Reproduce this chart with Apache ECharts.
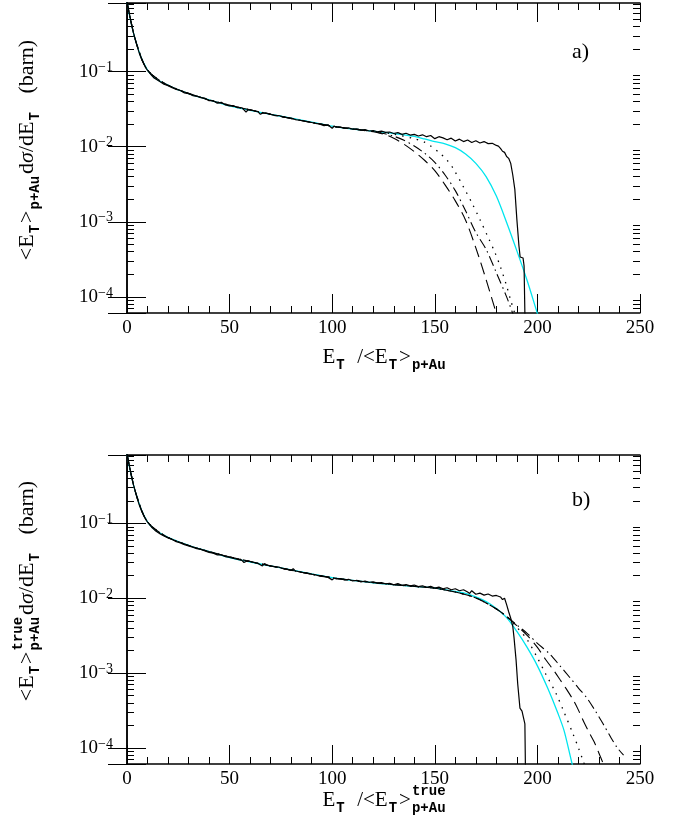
<!DOCTYPE html>
<html>
<head>
<meta charset="utf-8">
<title>ET distributions p+Au</title>
<script src="https://cdn.jsdelivr.net/npm/echarts@6/dist/echarts.min.js"></script>
<style>
  html, body { margin: 0; padding: 0; background: #fff; }
  #main { width: 678px; height: 819px; }
</style>
</head>
<body>
<div id="main"></div>
<script type="text/javascript">
// ---- data ----
var xTicks = [0, 50, 100, 150, 200, 250];
var yDecades = [1e-4, 1e-3, 1e-2, 1e-1];
var Y_MIN = 6.1e-5, Y_MAX = 0.82;

// panel a)
var blackA = [[0,0.85],[1,0.62],[2,0.46],[3,0.34],[4,0.27],[5,0.215],[6,0.176],[7,0.148],[8,0.129],[9,0.114],[10,0.104],[11,0.096],[12,0.089],[13,0.083],[14,0.080],[16,0.074],[18,0.068],[20,0.065],[22,0.061],[24,0.058],[26,0.056],[28,0.052],[30,0.051],[32,0.048],[34,0.047],[36,0.045],[38,0.044],[40,0.041],[42,0.041],[44,0.038],[46,0.039],[48,0.036],[50,0.035],[52,0.035],[54,0.033],[56,0.033],[57,0.031],[58,0.029],[59,0.031],[60,0.031],[62,0.030],[64,0.029],[65,0.027],[66,0.028],[68,0.028],[70,0.027],[72,0.026],[74,0.026],[76,0.025],[78,0.0245],[80,0.024],[82,0.023],[84,0.0225],[86,0.022],[88,0.0215],[90,0.021],[92,0.0205],[94,0.020],[96,0.019],[98,0.0195],[100,0.0176],[101,0.0188],[102,0.0182],[104,0.0183],[106,0.0176],[108,0.0178],[110,0.0171],[112,0.0173],[114,0.0166],[116,0.0169],[118,0.0162],[120,0.0164],[122,0.0158],[124,0.0161],[126,0.0155],[128,0.0157],[130,0.0150],[132,0.0154],[134,0.0146],[136,0.0151],[138,0.0143],[140,0.0146],[142,0.0139],[144,0.0144],[146,0.0136],[148,0.0141],[150,0.0128],[152,0.0136],[154,0.0131],[156,0.0124],[158,0.0130],[160,0.0119],[162,0.0126],[164,0.0117],[166,0.0123],[168,0.0114],[170,0.0120],[172,0.0112],[174,0.0117],[176,0.0110],[178,0.0111],[180,0.0104],[181,0.0102],[182,0.0095],[183,0.0087],[184,0.0084],[185,0.0074],[186,0.0070],[187,0.0060],[188,0.0042],[189,0.0027],[190,0.00107],[191,0.00048],[191.6,0.00034],[193,0.00033],[193.5,0.00026],[194.3,0.00026],[194.4,0.00001]];
var cyanA = [[0,0.85],[0.5,0.72],[1,0.6],[1.5,0.52],[2,0.45],[3,0.34],[4,0.27],[5,0.22],[6,0.18],[7,0.152],[8,0.132],[10,0.105],[12,0.09],[14,0.081],[17,0.072],[20,0.066],[25,0.057],[30,0.051],[35,0.046],[40,0.042],[50,0.035],[60,0.0305],[70,0.027],[80,0.024],[90,0.0213],[100,0.0188],[110,0.0172],[120,0.0161],[130,0.0150],[140,0.0137],[145,0.0127],[150,0.0117],[155,0.0109],[160,0.0097],[165,0.0080],[170,0.0060],[175,0.0040],[180,0.0022],[185,0.00098],[190,0.00041],[195,0.000165],[200,0.00006],[201,0.00005]];
var dashA = [[0,0.85],[2,0.45],[5,0.22],[10,0.105],[20,0.066],[40,0.042],[70,0.027],[100,0.0188],[120,0.0158],[125,0.0147],[130,0.0130],[135,0.0108],[140,0.0086],[145,0.0066],[150,0.0048],[155,0.0031],[160,0.0019],[165,0.00105],[170,0.00045],[175,0.00017],[180,0.00006],[181,0.00005]];
var dashDotA = [[0,0.85],[2,0.45],[5,0.22],[10,0.105],[20,0.066],[40,0.042],[70,0.027],[100,0.0188],[120,0.0159],[125,0.0150],[130,0.0138],[135,0.0122],[140,0.0102],[145,0.0082],[150,0.0062],[155,0.0042],[160,0.0026],[165,0.0014],[170,0.00072],[175,0.00043],[180,0.00021],[185,0.0001],[188,0.00006],[189,0.00005]];
var dotA = [[0,0.85],[2,0.45],[5,0.22],[10,0.105],[20,0.066],[40,0.042],[70,0.027],[100,0.0188],[120,0.0160],[130,0.0147],[140,0.0128],[145,0.0115],[148,0.0102],[152,0.0084],[156,0.0066],[159,0.0051],[164,0.0029],[168,0.0018],[172,0.00107],[176,0.00062],[179.3,0.00039],[182,0.00025],[185,0.00014],[187,0.00009],[189,0.00006],[190,0.00005]];

// panel b)
var blackB = [[0,0.85],[1,0.62],[2,0.46],[3,0.34],[4,0.27],[5,0.215],[6,0.176],[7,0.149],[8,0.129],[9,0.115],[10,0.104],[11,0.096],[12,0.089],[13,0.084],[14,0.079],[16,0.073],[18,0.068],[20,0.064],[22,0.061],[24,0.057],[26,0.055],[28,0.052],[30,0.050],[32,0.048],[34,0.046],[36,0.045],[38,0.043],[40,0.041],[42,0.040],[44,0.038],[46,0.038],[48,0.036],[50,0.035],[52,0.034],[54,0.033],[56,0.032],[57,0.030],[58,0.031],[60,0.031],[62,0.030],[64,0.029],[66,0.027],[67,0.029],[68,0.028],[70,0.027],[72,0.0265],[74,0.026],[76,0.025],[78,0.0245],[80,0.0236],[81,0.0248],[82,0.0232],[84,0.0226],[86,0.022],[88,0.0216],[90,0.021],[92,0.0205],[94,0.0197],[96,0.0194],[98,0.019],[100,0.0176],[101,0.0186],[102,0.0181],[104,0.0183],[106,0.0175],[108,0.0179],[110,0.0170],[112,0.0174],[114,0.0165],[116,0.0170],[118,0.0163],[120,0.0166],[122,0.0159],[124,0.0162],[126,0.0156],[128,0.0158],[130,0.0151],[132,0.0157],[134,0.0149],[136,0.0152],[138,0.0146],[140,0.0150],[142,0.0143],[144,0.0147],[146,0.0140],[148,0.0144],[150,0.0137],[152,0.0141],[154,0.0134],[156,0.0138],[158,0.0130],[160,0.0134],[162,0.0126],[164,0.0130],[166,0.0121],[167,0.0116],[168,0.0126],[170,0.0113],[172,0.0117],[174,0.0110],[176,0.0114],[178,0.0107],[180,0.0109],[182,0.0104],[183,0.0096],[184,0.0100],[185,0.0082],[186,0.0066],[187,0.0054],[188,0.0042],[188.6,0.0030],[189.6,0.0015],[190.4,0.00072],[191.5,0.00034],[192.5,0.00031],[193.2,0.00030],[193.9,0.00021],[194.4,0.00021],[194.5,0.00001]];
var cyanB = [[0,0.85],[0.5,0.72],[1,0.6],[1.5,0.52],[2,0.45],[3,0.34],[4,0.27],[5,0.22],[6,0.18],[7,0.152],[8,0.132],[10,0.105],[12,0.09],[14,0.081],[17,0.072],[20,0.065],[25,0.057],[30,0.051],[35,0.046],[40,0.042],[50,0.035],[60,0.0305],[70,0.027],[80,0.024],[90,0.0212],[100,0.0188],[110,0.0173],[120,0.0161],[130,0.0152],[140,0.0144],[150,0.0137],[160,0.0123],[165,0.0116],[170,0.0104],[175,0.0090],[180,0.0073],[185,0.0055],[190,0.0036],[195,0.0022],[200,0.00125],[205,0.00063],[210,0.00029],[213,0.00017],[217,0.00006],[218,0.00005]];
var dashB = [[0,0.85],[2,0.45],[5,0.22],[10,0.105],[20,0.065],[40,0.042],[70,0.027],[100,0.0188],[130,0.0152],[150,0.0136],[160,0.0121],[170,0.0101],[180,0.0072],[185,0.0057],[190,0.0043],[195,0.0032],[200,0.0022],[204,0.00152],[208,0.00108],[211,0.00082],[214,0.00062],[217.5,0.000435],[220,0.00032],[222.7,0.00022],[225,0.000165],[227.7,0.00012],[230,0.000085],[232,0.000063],[234,0.00005]];
var dashDotB = [[0,0.85],[2,0.45],[5,0.22],[10,0.105],[20,0.065],[40,0.042],[70,0.027],[100,0.0188],[130,0.0152],[150,0.0136],[160,0.0121],[170,0.0101],[180,0.0072],[185,0.0057],[190,0.0044],[195,0.0034],[200,0.0025],[206,0.0018],[211,0.00125],[216,0.00086],[220,0.00063],[224,0.00047],[228,0.00032],[232,0.00021],[236,0.000135],[239,0.0001],[242,0.00008]];
var dotB = [[0,0.85],[2,0.45],[5,0.22],[10,0.105],[20,0.065],[40,0.042],[70,0.027],[100,0.0188],[130,0.0152],[150,0.0136],[160,0.0121],[170,0.0101],[180,0.0072],[185,0.0057],[190,0.0041],[195,0.0028],[200,0.0016],[204,0.00098],[209,0.00054],[213,0.0003],[217.2,0.000158],[220,0.0001],[222.4,0.000066],[224,0.00005]];

// ---- styling ----
var SERIF = 'Liberation Serif';
var MAIN = '22px "Liberation Serif"';
var ITAL = 'italic 22px "Liberation Serif"';
var SMALL = 'bold 14px "Liberation Mono"';

// minor log ticks 2..9 x 10^k, expressed in log10 for the helper value axes
var minorLog = [];
for (var k = -5; k <= 0; k++) {
    for (var m = 2; m <= 9; m++) {
        var v = m * Math.pow(10, k);
        if (v > Y_MIN && v < Y_MAX) minorLog.push(Math.log10(v));
    }
}

function xAx(grid, pos, showLabel) {
    return {
        type: 'value', gridIndex: grid, position: pos,
        min: xTicks[0], max: xTicks[xTicks.length - 1], interval: xTicks[1] - xTicks[0],
        axisLine: { show: true, onZero: false, lineStyle: { color: '#000', width: 1.5 } },
        axisTick: { show: true, inside: true, length: 19, lineStyle: { color: '#000', width: 1 } },
        minorTick: { show: true, splitNumber: 5, length: 7, lineStyle: { color: '#000', width: 1 } },
        splitLine: { show: false }, minorSplitLine: { show: false },
        axisLabel: { show: showLabel, margin: 6, color: '#000', fontFamily: SERIF, fontSize: 19 }
    };
}

function yLog(grid, pos, showLabel) {
    return {
        type: 'log', logBase: 10, gridIndex: grid, position: pos,
        min: Y_MIN, max: Y_MAX, splitNumber: 5,
        axisLine: { show: true, lineStyle: { color: '#000', width: 1.5 } },
        axisTick: { show: true, inside: true, length: 19, lineStyle: { color: '#000', width: 1 } },
        splitLine: { show: false },
        axisLabel: {
            show: showLabel, margin: 14, color: '#000',
            formatter: function (val) {
                var l = Math.log10(val), e = Math.round(l);
                if (Math.abs(l - e) > 1e-6) return '';
                return '{b|10}{e|\u2212' + (-e) + '}';
            },
            rich: {
                b: { fontFamily: SERIF, fontSize: 19, lineHeight: 22, color: '#000' },
                e: { fontFamily: SERIF, fontSize: 14, lineHeight: 10, verticalAlign: 'top', color: '#000' }
            }
        }
    };
}

function yMinor(grid, pos) {
    return {
        type: 'value', gridIndex: grid, position: pos,
        min: Math.log10(Y_MIN), max: Math.log10(Y_MAX),
        axisLine: { show: false },
        axisTick: { show: true, inside: true, length: 7, customValues: minorLog, lineStyle: { color: '#000', width: 1 } },
        axisLabel: { show: false },
        splitLine: { show: false }
    };
}

function line(data, grid, color, type, width, smooth, z) {
    return {
        type: 'line', data: data, xAxisIndex: grid * 2, yAxisIndex: grid * 4,
        showSymbol: false, symbol: 'none', smooth: smooth ? 0.3 : false,
        lineStyle: { color: color, width: width, type: type }, silent: true, z: z
    };
}

// math-like labels built from pieces
var ctx = document.createElement('canvas').getContext('2d');
function tw(s, font) { ctx.font = font; return ctx.measureText(s).width; }
function txt(s, x, y, font) {
    return { type: 'text', x: x, y: y, silent: true,
        style: { text: s, font: font, fill: '#000', align: 'left', verticalAlign: 'middle',
                 textAlign: 'left', textVerticalAlign: 'middle' } };
}
function formula(parts, cx, cy, rot, font) {
    var x = 0, kids = [], f = font || MAIN;
    parts.forEach(function (p) {
        if (typeof p === 'string') {
            kids.push(txt(p, x, 0, f)); x += tw(p, f);
        } else if (p.it) {
            kids.push(txt(p.it, x, 0, ITAL)); x += tw(p.it, ITAL);
        } else {
            var w1 = p.sub ? tw(p.sub, SMALL) : 0, w2 = p.sup ? tw(p.sup, SMALL) : 0;
            if (p.sub) kids.push(txt(p.sub, x + 1, 8, SMALL));
            if (p.sup) kids.push(txt(p.sup, x + 1, -9, SMALL));
            x += Math.max(w1, w2) + 3;
        }
    });
    kids.forEach(function (c) { c.x -= x / 2; });
    return { type: 'group', x: cx, y: cy, rotation: rot || 0, children: kids, silent: true };
}

var myChart = echarts.init(document.getElementById('main'), null, { renderer: 'canvas' });

var option = {
    backgroundColor: '#fff',
    animation: false,
    grid: [
        { left: 127, top: 3, width: 513, height: 310, outerBoundsMode: 'none' },
        { left: 127, top: 455, width: 513, height: 309, outerBoundsMode: 'none' }
    ],
    xAxis: [xAx(0, 'bottom', true), xAx(0, 'top', false), xAx(1, 'bottom', true), xAx(1, 'top', false)],
    yAxis: [
        yLog(0, 'left', true), yLog(0, 'right', false), yMinor(0, 'left'), yMinor(0, 'right'),
        yLog(1, 'left', true), yLog(1, 'right', false), yMinor(1, 'left'), yMinor(1, 'right')
    ],
    series: [
        line(cyanA, 0, '#00e5ee', 'solid', 1.3, true, 2),
        line(dashA, 0, '#000', [12, 6], 1.1, true, 3),
        line(dashDotA, 0, '#000', [10, 4, 1.5, 4], 1.1, true, 3),
        line(dotA, 0, '#000', [1.5, 6], 1.3, true, 3),
        line(blackA, 0, '#000', 'solid', 1.2, false, 4),
        line(cyanB, 1, '#00e5ee', 'solid', 1.3, true, 2),
        line(dashB, 1, '#000', [12, 6], 1.1, true, 3),
        line(dashDotB, 1, '#000', [10, 4, 1.5, 4], 1.1, true, 3),
        line(dotB, 1, '#000', [1.5, 6], 1.3, true, 3),
        line(blackB, 1, '#000', 'solid', 1.2, false, 4)
    ],
    graphic: [
        formula(['<E', { sub: 'T' }, '>', { sub: 'p+Au' }, 'd', { it: '\u03c3' }, '/dE', { sub: 'T' }, '   (barn)'], 27, 150, Math.PI / 2),
        formula(['<E', { sub: 'T' }, '>', { sup: 'true', sub: 'p+Au' }, 'd', { it: '\u03c3' }, '/dE', { sub: 'T' }, '   (barn)'], 27, 591, Math.PI / 2),
        formula(['E', { sub: 'T' }, '  /<E', { sub: 'T' }, '>', { sub: 'p+Au' }], 385, 357, 0, '21px "Liberation Serif"'),
        formula(['E', { sub: 'T' }, '  /<E', { sub: 'T' }, '>', { sup: 'true', sub: 'p+Au' }], 385, 800, 0, '21px "Liberation Serif"'),
        txt('a)', 572, 52, '22px "Liberation Serif"'),
        txt('b)', 572, 500, '22px "Liberation Serif"')
    ]
};

myChart.setOption(option);
</script>
</body>
</html>
